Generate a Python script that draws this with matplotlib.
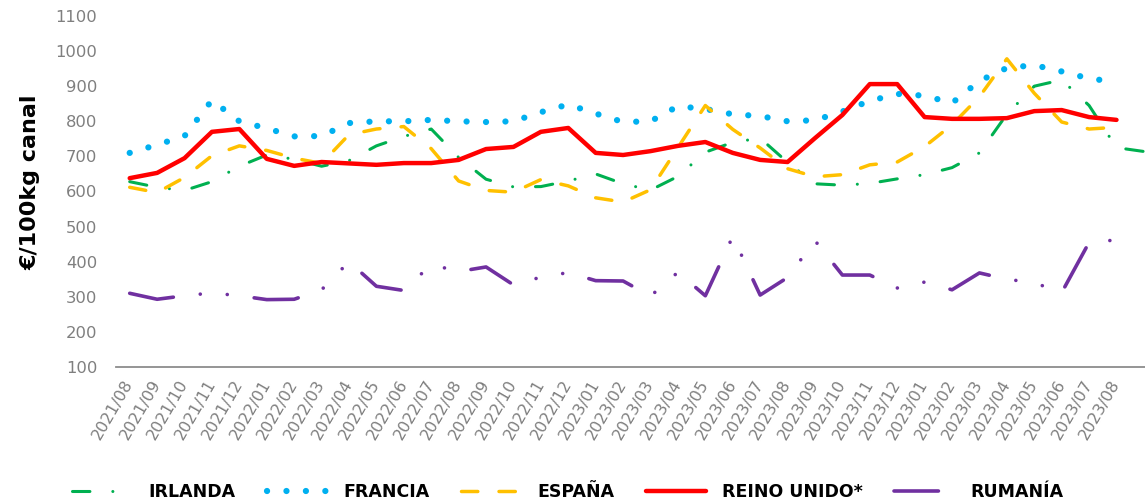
import matplotlib
matplotlib.use("Agg")
import matplotlib.pyplot as plt

# month labels as printed on the source chart (the last block repeats 2023)
MONTHS = (["2021/%02d" % m for m in range(8, 13)]
          + ["2022/%02d" % m for m in range(1, 13)]
          + ["2023/%02d" % m for m in range(1, 13)]
          + ["2023/%02d" % m for m in range(1, 9)])

# €/100kg canal (Irlanda runs one step past the last label)
IRLANDA = [628, 612, 603, 628, 672, 704, 692, 672, 688, 730, 757, 778, 697,
           635, 613, 614, 630, 650, 622, 604, 643, 712, 740, 752, 683, 622,
           618, 623, 636, 648, 668, 710, 820, 900, 918, 845, 725, 714]
FRANCIA = [710, 733, 758, 860, 800, 780, 757, 758, 795, 800, 800, 804, 800,
           798, 800, 826, 848, 822, 798, 800, 843, 835, 820, 815, 800, 803,
           828, 858, 878, 873, 852, 915, 952, 960, 942, 922, 912]
ESPANA = [612, 597, 640, 702, 730, 717, 695, 680, 762, 778, 785, 722, 630,
          603, 598, 634, 616, 582, 570, 605, 725, 845, 777, 724, 665, 642,
          648, 676, 684, 728, 790, 870, 978, 880, 798, 778, 783]
REINO_UNIDO = [638, 653, 695, 770, 778, 693, 673, 684, 680, 676, 681, 681,
               690, 721, 727, 770, 781, 710, 704, 715, 730, 741, 710, 690,
               684, 752, 818, 906, 906, 812, 807, 807, 809, 829, 832, 812, 804]
RUMANIA = [310, 293, 303, 311, 303, 292, 293, 320, 400, 330, 318, 392, 372,
           385, 334, 356, 369, 346, 345, 302, 370, 303, 472, 305, 355, 460,
           362, 362, 325, 342, 320, 368, 350, 340, 312, 455, 462]

SERIES = [
    ("IRLANDA", IRLANDA, "#00B050", 2.2, (0, (5.7, 7.5, 0.01, 7.5))),
    ("FRANCIA", FRANCIA, "#00B0F0", 4.5, (0, (0.01, 3.1))),
    ("ESPAÑA", ESPANA, "#FFC000", 2.5, (0, (4.7, 6.1))),
    ("REINO UNIDO*", REINO_UNIDO, "#FF0000", 3.2, "-"),
    ("RUMANÍA", RUMANIA, "#7030A0", 2.6, (0, (12.3, 7.5, 0.01, 7.5, 0.01, 7.5))),
]

W, H = 1145, 504
fig = plt.figure(figsize=(W / 100, H / 100), dpi=100)
ax = fig.add_axes([116 / W, 1 - 367 / H, 1 - 116 / W, (367 - 16) / H])

for name, vals, col, lw, ls in SERIES:
    ax.plot(range(len(vals)), vals, color=col, lw=lw, ls=ls, label=name,
            dash_capstyle="round", solid_capstyle="round",
            solid_joinstyle="round", dash_joinstyle="round")

ax.set_ylim(100, 1100)
ax.set_xlim(-0.5, 37.04)
ax.set_yticks(range(100, 1101, 100))
ax.set_xticks(range(len(MONTHS)))
ax.set_xticklabels(MONTHS, rotation=60, ha="right", va="center",
                   rotation_mode="anchor")
ax.tick_params(axis="y", length=0, pad=13.5, labelsize=11.8, labelcolor="#7f7f7f")
ax.tick_params(axis="x", length=0, pad=10, labelsize=11.5, labelcolor="#7f7f7f")

for side in ["left", "right", "top"]:
    ax.spines[side].set_visible(False)
ax.spines["bottom"].set_color("#8c8c8c")
ax.spines["bottom"].set_linewidth(1.3)

fig.text(30 / W, 1 - 182 / H, "€/100kg canal", rotation=90, ha="center",
         va="center", fontsize=16, fontweight="bold", color="black")

fig.legend(loc="center", bbox_to_anchor=(0.496, 1 - 492 / H), ncol=5,
           frameon=False, prop={"size": 12.5, "weight": "bold"},
           handlelength=3.5, handletextpad=0.9, columnspacing=1.8)

fig.savefig("out.png", dpi=100)
